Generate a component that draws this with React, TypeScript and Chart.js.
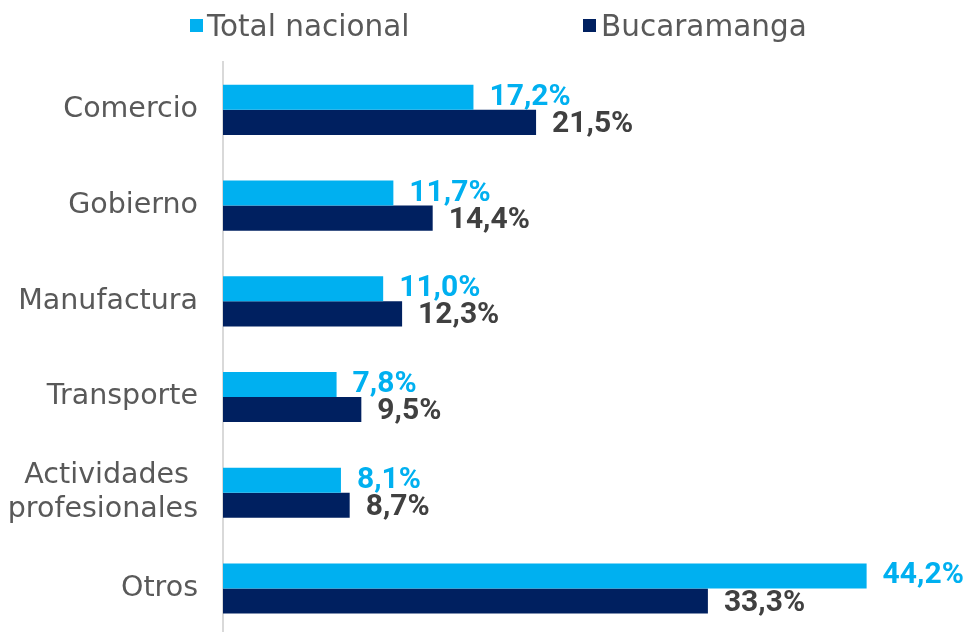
import React, { useEffect, useRef } from "react";
import { Chart, registerables } from "chart.js";

Chart.register(...registerables);

const categories: (string | string[])[] = [
  "Comercio",
  "Gobierno",
  "Manufactura",
  "Transporte",
  ["Actividades ", "profesionales"],
  "Otros",
];
const seriesNames = ["Total nacional", "Bucaramanga"];
const totalNacional = [17.2, 11.7, 11.0, 7.8, 8.1, 44.2];
const bucaramanga = [21.5, 14.4, 12.3, 9.5, 8.7, 33.3];

const barColors = ["#00B0F0", "#002060"];
const labelColors = ["#00B0F0", "#404040"];
const labelOffsetsY = [0, 2];

const fmt = (v: number) => v.toFixed(1).replace(".", ",") + "%";

const valueLabels = {
  id: "valueLabels",
  afterDatasetsDraw(chart: any) {
    const ctx = chart.ctx;
    chart.data.datasets.forEach((ds: any, i: number) => {
      const meta = chart.getDatasetMeta(i);
      meta.data.forEach((bar: any, j: number) => {
        const v = ds.data[j] as number;
        ctx.save();
        ctx.font = "bold 30px Roboto";
        ctx.fillStyle = labelColors[i];
        ctx.textAlign = "left";
        ctx.textBaseline = "middle";
        ctx.fillText(fmt(v), bar.x + 16, bar.y + labelOffsetsY[i]);
        ctx.restore();
      });
    });
  },
};

export default function App() {
  const ref = useRef<HTMLCanvasElement>(null);

  useEffect(() => {
    if (!ref.current) return;
    const chart = new Chart(ref.current, {
      type: "bar",
      data: {
        labels: categories,
        datasets: [
          {
            label: seriesNames[0],
            data: totalNacional,
            backgroundColor: barColors[0],
            categoryPercentage: 0.524,
            barPercentage: 1,
          },
          {
            label: seriesNames[1],
            data: bucaramanga,
            backgroundColor: barColors[1],
            categoryPercentage: 0.524,
            barPercentage: 1,
          },
        ],
      },
      options: {
        indexAxis: "y",
        responsive: false,
        animation: false,
        layout: { padding: { top: 62, left: 0, right: 0, bottom: 0 } },
        plugins: {
          legend: { display: false },
          tooltip: { enabled: false },
        },
        scales: {
          x: {
            display: false,
            min: 0,
            max: 51.3,
          },
          y: {
            grid: { display: false, drawTicks: false },
            border: { color: "#D9D9D9", width: 2 },
            ticks: {
              color: "#595959",
              padding: 25,
              font: { family: "DejaVu Sans", size: 28.5, lineHeight: 1.17 },
            },
            afterFit(scale: any) {
              scale.width = 223;
            },
          },
        },
      },
      plugins: [valueLabels],
    } as any);
    return () => chart.destroy();
  }, []);

  const legendText: React.CSSProperties = {
    position: "absolute",
    top: 8,
    fontFamily: "DejaVu Sans",
    fontSize: 29.5,
    lineHeight: "36px",
    color: "#595959",
    whiteSpace: "nowrap",
  };
  const sq = (left: number, color: string): React.CSSProperties => ({
    position: "absolute",
    left,
    top: 19,
    width: 13,
    height: 13,
    background: color,
  });

  return (
    <div
      style={{
        position: "absolute",
        left: 0,
        top: 0,
        width: 970,
        height: 632,
        overflow: "hidden",
        background: "#fff",
      }}
    >
      <canvas
        ref={ref}
        width={970}
        height={678}
        style={{ position: "absolute", left: 0, top: 0, width: 970, height: 678 }}
      />
      <div style={sq(190, barColors[0])} />
      <div style={{ ...legendText, left: 207 }}>{seriesNames[0]}</div>
      <div style={sq(583, barColors[1])} />
      <div style={{ ...legendText, left: 601 }}>{seriesNames[1]}</div>
    </div>
  );
}
